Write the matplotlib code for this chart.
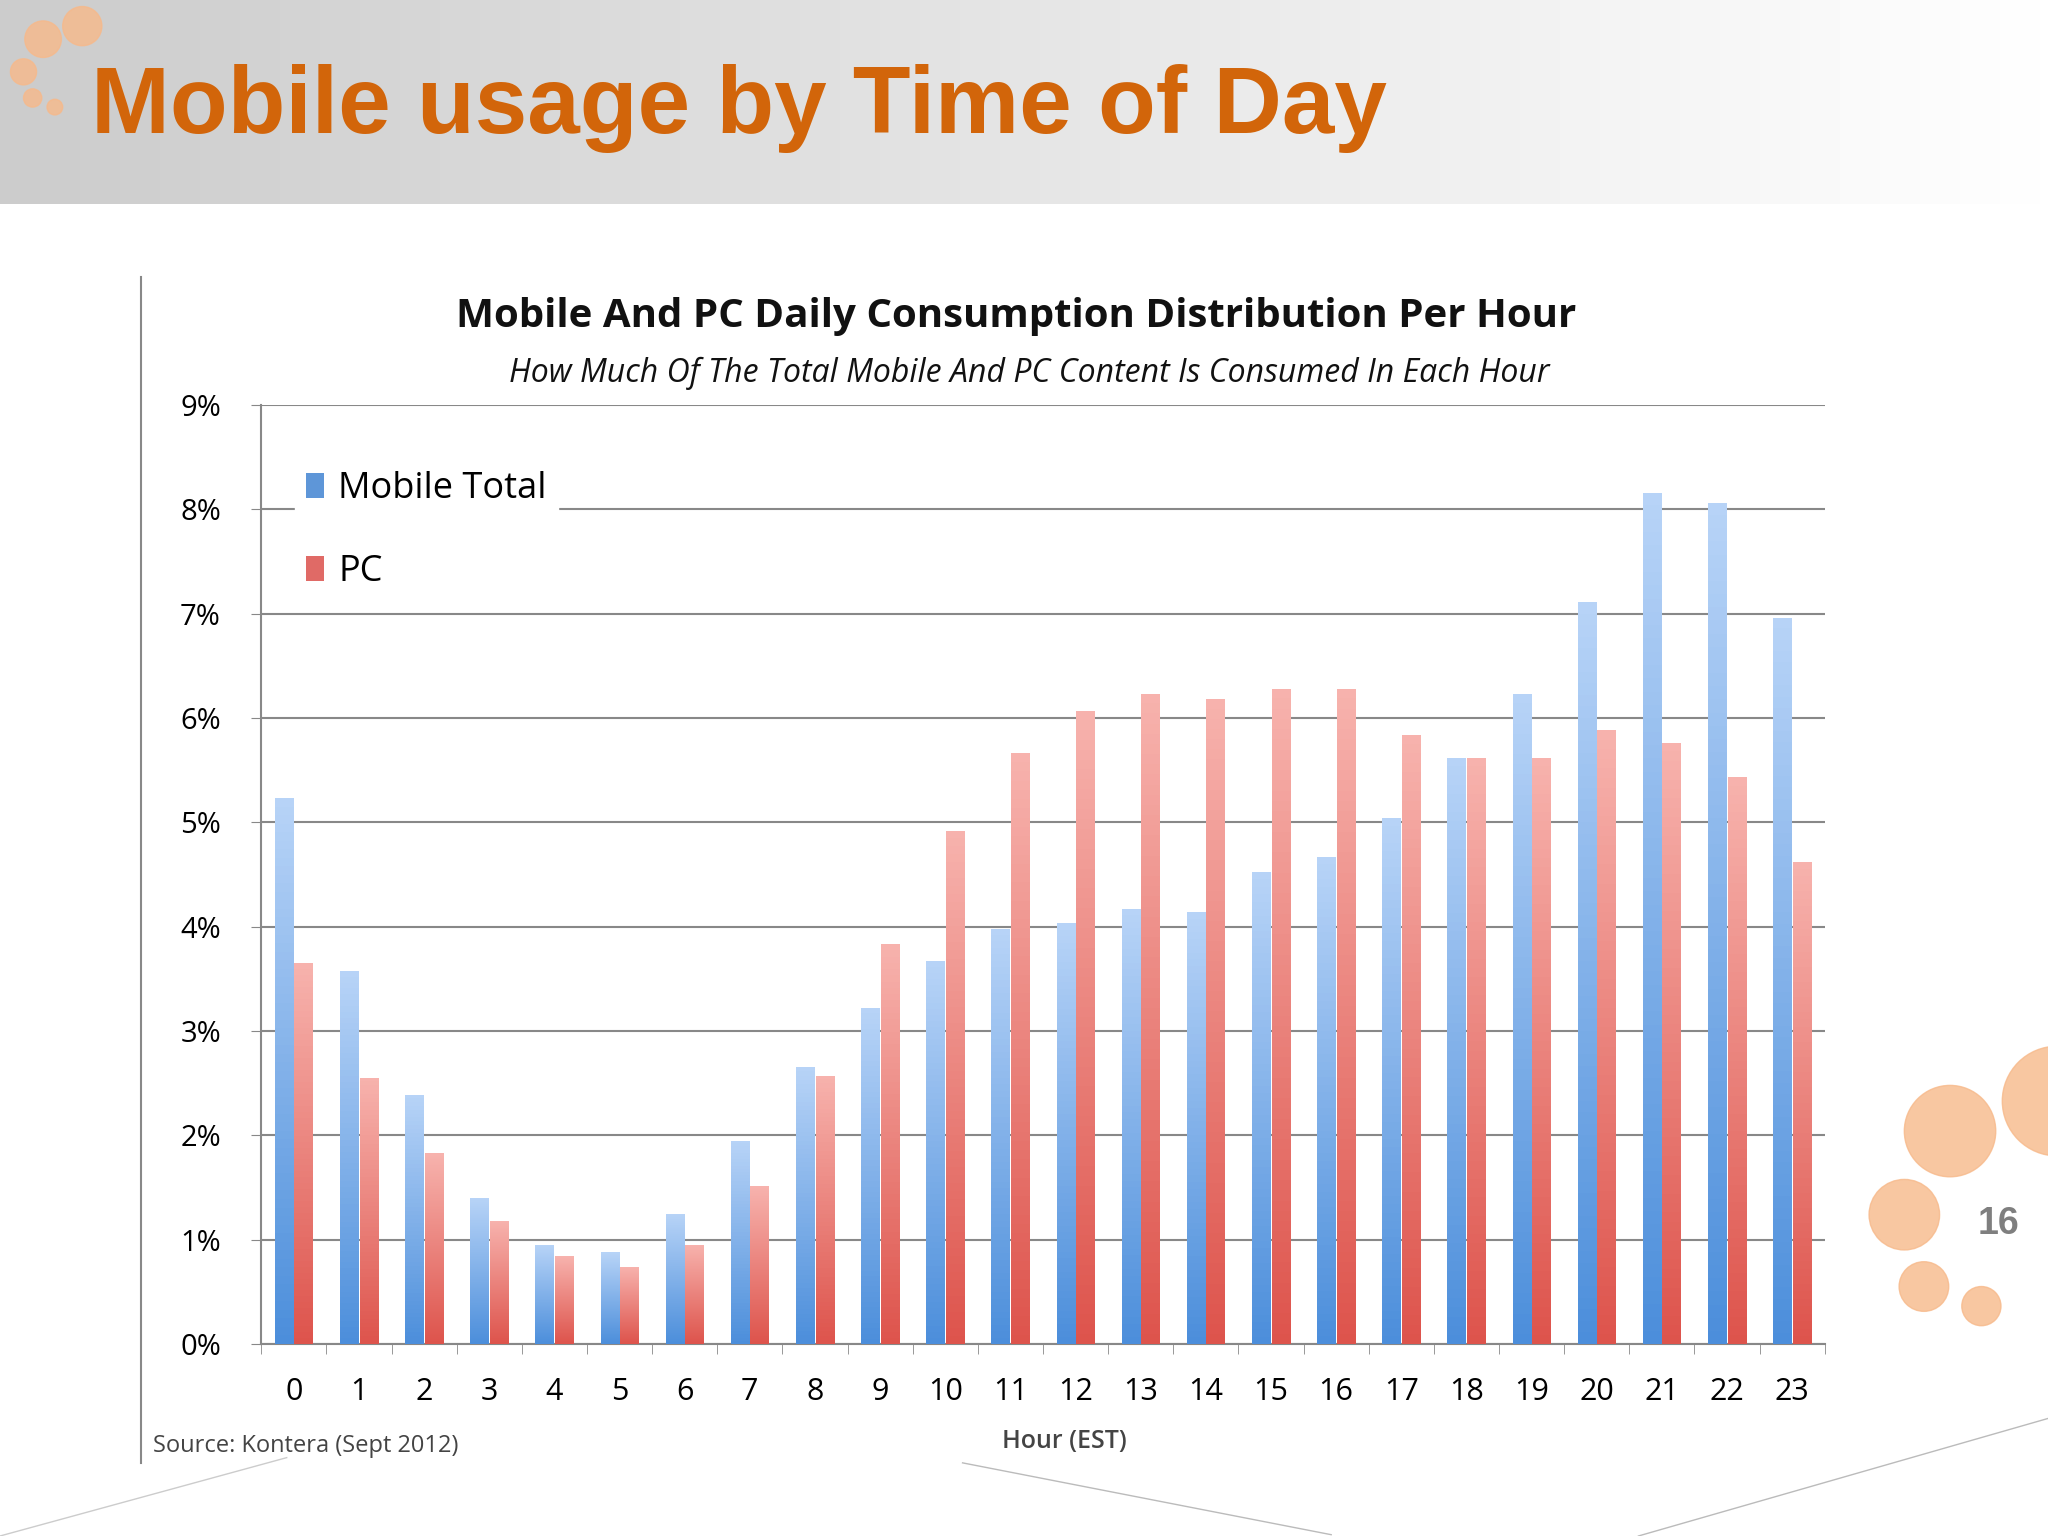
import matplotlib
matplotlib.use("Agg")
import matplotlib.pyplot as plt
import numpy as np
from matplotlib.patches import Rectangle

hours = [str(h) for h in range(24)]
mobile = [5.23, 3.57, 2.39, 1.40, 0.95, 0.88, 1.25, 1.95, 2.65, 3.22, 3.67, 3.98,
          4.03, 4.17, 4.14, 4.52, 4.67, 5.04, 5.62, 6.23, 7.11, 8.16, 8.06, 6.96]
pc = [3.65, 2.55, 1.83, 1.18, 0.84, 0.74, 0.95, 1.51, 2.57, 3.83, 4.92, 5.66,
      6.07, 6.23, 6.18, 6.28, 6.28, 5.84, 5.62, 5.62, 5.88, 5.76, 5.43, 4.62]
yticks = [0, 1, 2, 3, 4, 5, 6, 7, 8, 9]

plt.rcParams['font.family'] = ['Open Sans', 'DejaVu Sans']
fig = plt.figure(figsize=(20.48, 15.36), dpi=100)
bg = fig.add_axes([0, 0, 1, 1]); bg.set_xlim(0, 1); bg.set_ylim(0, 1); bg.axis('off')
grad = np.linspace(0.80, 1.0, 256).reshape(1, -1)
bg.imshow(np.dstack([grad, grad, grad]), extent=[0, 1, 1 - 156/1176, 1], aspect='auto', zorder=0)
bg.text(70/1568, 1 - 83/1176, "Mobile usage by Time of Day", color='#d2650a', fontsize=68,
        fontweight='bold', family='Liberation Sans', va='center', ha='left')
for (x, y, r) in [(63, 20, 15), (33, 30, 14), (18, 55, 10), (25, 75, 7), (42, 82, 6),
                  (1493, 866, 35), (1575, 843, 42), (1458, 930, 27), (1473, 985, 19), (1517, 1000, 15)]:
    bg.add_patch(matplotlib.patches.Ellipse((x/1568, 1 - y/1176), 2*r/1568, 2*r/1176,
                                            color='#f7b98a', alpha=0.8, zorder=1))
bg.text(1530/1568, 1 - 937/1176, "16", color='#7f7f7f', fontsize=27, fontweight='bold',
        ha='center', va='center', family='Liberation Sans')
bg.plot([108/1568, 108/1568], [1 - 212/1176, 1 - 1120/1176], color='#888888', lw=1.5)
t = np.linspace(0, 1, 100)
bg.plot(t * 0.14, 1 - (1176 - 60*t)/1176, color='#cccccc', lw=1)
bg.plot(0.47 + t*0.18, 1 - (1120 + 55*t)/1176, color='#bbbbbb', lw=1)
bg.plot(0.80 + t*0.20, 1 - (1176 - 90*t)/1176, color='#bbbbbb', lw=1)

fig.text(778/1568, 1 - 242/1176, "Mobile And PC Daily Consumption Distribution Per Hour",
         fontsize=29, fontweight='bold', ha='center', va='center', color='#111111')
fig.text(788/1568, 1 - 286/1176, "How Much Of The Total Mobile And PC Content Is Consumed In Each Hour",
         fontsize=23, style='italic', ha='center', va='center', color='#111111')
fig.text(117/1568, 1 - 1107/1176, "Source: Kontera (Sept 2012)", fontsize=17, color='#444444', va='center')
fig.text(815/1568, 1 - 1104/1176, "Hour (EST)", fontsize=18, color='#444444', ha='center',
         va='center', fontweight='semibold')

ax = fig.add_axes([200/1568, 1 - 1029/1176, 1197/1568, 719/1176])
x = np.arange(len(hours))
w = 0.28
def gbar(xc, h, c1, c2):
    g = np.linspace(0, 1, 64).reshape(-1, 1, 1)
    img = (1 - g) * np.array(c1) + g * np.array(c2)
    im = ax.imshow(img, extent=[xc - w/2, xc + w/2, 0, h], aspect='auto', zorder=3, origin='lower')
    r = Rectangle((xc - w/2, 0), w, h, transform=ax.transData, facecolor='none', edgecolor='none')
    ax.add_patch(r); im.set_clip_path(r)
blue_bot, blue_top = (0.30, 0.56, 0.86), (0.72, 0.83, 0.97)
red_bot, red_top = (0.87, 0.33, 0.30), (0.97, 0.70, 0.68)
for i in range(len(hours)):
    gbar(x[i] - 0.15, mobile[i], blue_bot, blue_top)
    gbar(x[i] + 0.15, pc[i], red_bot, red_top)
ax.set_xlim(-0.5, 23.5); ax.set_ylim(0, 9)
ax.set_yticks(yticks); ax.set_yticklabels([f"{v}%" for v in yticks], fontsize=21)
ax.set_xticks(x); ax.set_xticklabels(hours, fontsize=22)
ax.set_xticks(np.arange(-0.5, 24, 1), minor=True)
ax.tick_params(axis='x', which='major', length=0, pad=24)
ax.tick_params(axis='x', which='minor', length=7, color='#888888')
ax.tick_params(axis='y', length=7, color='#888888', pad=22)
ax.yaxis.grid(True, color='#888888', lw=1.5, zorder=1)
for s in ['top', 'right']: ax.spines[s].set_visible(False)
for s in ['left', 'bottom']: ax.spines[s].set_color('#888888'); ax.spines[s].set_linewidth(1.5)
ax.bar([0], [0], color='#5e96d8', label='Mobile Total')
ax.bar([0], [0], color='#e06a66', label='PC')
leg = ax.legend(loc='upper left', bbox_to_anchor=(0.01, 0.96), fontsize=26, frameon=True,
                fancybox=False, edgecolor='white', framealpha=1, handlelength=0.5,
                handletextpad=0.4, labelspacing=1.3, borderpad=0.3)
leg.set_zorder(5)
fig.savefig("out.png", dpi=100)
